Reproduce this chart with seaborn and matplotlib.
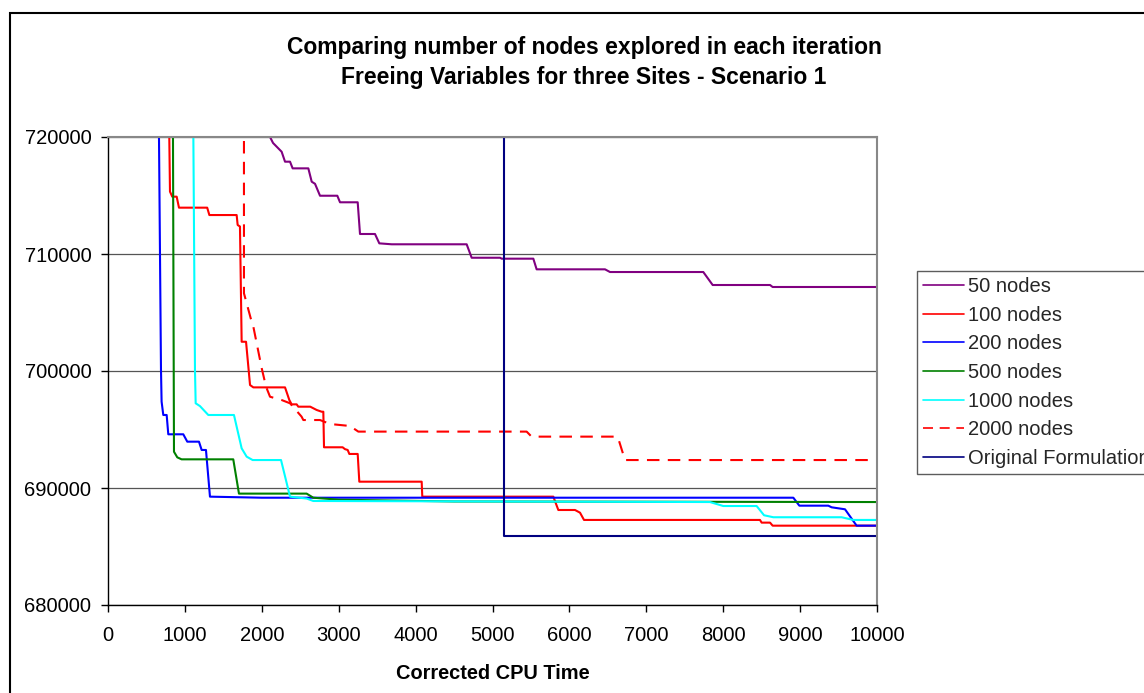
import matplotlib
matplotlib.use("Agg")
import matplotlib.pyplot as plt
from matplotlib.patches import Rectangle
from matplotlib.ticker import FuncFormatter
import seaborn as sns
import pandas as pd

# ---- data: (CPU time, nodes explored) step traces per configuration ----
n50_x = [2060, 2107, 2146, 2258, 2302, 2367, 2401, 2605, 2649, 2692, 2757, 2982, 3017, 3247,
         3277, 3472, 3528, 3689, 4664, 4729, 5098, 5120, 5531, 5574, 6463, 6528, 7741, 7863,
         8609, 8643, 10000]
n50_y = [720700, 720000, 719490, 718740, 717890, 717890, 717320, 717320, 716180, 716000, 714980,
         714980, 714420, 714420, 711710, 711710, 710910, 710830, 710830, 709680, 709680, 709600,
         709600, 708690, 708690, 708460, 708460, 707350, 707350, 707180, 707180]

n100_x = [790, 797, 806, 836, 893, 923, 1290, 1318, 1673, 1686, 1716, 1738, 1795, 1847, 1890,
          2302, 2358, 2388, 2453, 2475, 2630, 2713, 2778, 2800, 2809, 3051, 3082, 3117, 3138,
          3247, 3268, 4079, 4087, 5791, 5856, 6073, 6138, 6190, 8478, 8500, 8609, 8643, 10000]
n100_y = [722000, 720000, 715330, 714900, 714900, 713960, 713960, 713330, 713330, 712480, 712350,
          702500, 702500, 698800, 698600, 698600, 697520, 697150, 697150, 696950, 696950, 696670,
          696520, 696520, 693480, 693480, 693320, 693250, 692910, 692910, 690540, 690540, 689260,
          689260, 688120, 688120, 687890, 687270, 687270, 687040, 687040, 686780, 686780]

n200_x = [655, 663, 689, 697, 719, 763, 784, 979, 1031, 1183, 1218, 1274, 1326, 2000, 8912,
          8990, 9367, 9410, 9584, 9735, 10000]
n200_y = [725000, 720000, 700090, 697380, 696240, 696240, 694590, 694590, 693960, 693960, 693250,
          693250, 689260, 689170, 689170, 688490, 688490, 688350, 688180, 686780, 686780]

n500_x = [835, 845, 858, 901, 957, 1629, 1703, 2583, 2669, 3000, 4500, 10000]
n500_y = [725000, 720000, 693100, 692620, 692450, 692450, 689520, 689520, 689170, 689000, 688850,
          688800]

n1000_x = [1105, 1110, 1131, 1140, 1196, 1304, 1638, 1738, 1803, 1881, 2250, 2367, 2583, 2669,
           7828, 8001, 8435, 8531, 8652, 9540, 9692, 10000]
n1000_y = [725000, 720000, 700090, 697240, 697000, 696240, 696240, 693390, 692680, 692390, 692390,
           689260, 689100, 688890, 688800, 688460, 688460, 687670, 687500, 687500, 687270, 687270]

n2000_x = [1768, 1768, 1780, 1856, 1890, 1999, 2055, 2107, 2258, 2367, 2517, 2540, 2757, 2887,
           3147, 3255, 5444, 5508, 6615, 6637, 6723, 10000]
n2000_y = [725000, 706640, 706350, 704500, 703790, 700230, 698660, 697800, 697520, 697240, 696100,
           695810, 695810, 695470, 695300, 694820, 694820, 694390, 694390, 694200, 692390, 692390]

orig_x = [5150, 5150, 10000]
orig_y = [740000, 685930, 685930]

series_names = ["50 nodes", "100 nodes", "200 nodes", "500 nodes", "1000 nodes", "2000 nodes",
                "Original Formulation"]
x_ticks = list(range(0, 10001, 1000))
y_ticks = [680000, 690000, 700000, 710000, 720000]

# ---- styling ----
sns.set_theme(style="white")
plt.rcParams["font.family"] = ["Liberation Sans", "DejaVu Sans"]

fig = plt.figure(figsize=(11.44, 6.93), dpi=100)
ax = fig.add_axes([108 / 1144, 1 - 605 / 693, (877 - 108) / 1144, (605 - 137) / 693])

styles = [
    ("#800080", "-"),
    ("#FF0000", "-"),
    ("#0000FF", "-"),
    ("#008000", "-"),
    ("#00FFFF", "-"),
    ("#FF0000", "--"),
    ("#000080", "-"),
]
xs = [n50_x, n100_x, n200_x, n500_x, n1000_x, n2000_x, orig_x]
ys = [n50_y, n100_y, n200_y, n500_y, n1000_y, n2000_y, orig_y]

for name, sx, sy, (col, ls) in zip(series_names, xs, ys, styles):
    df = pd.DataFrame({"t": sx, "v": sy})
    line_kw = dict(dashes=(6, 4)) if ls == "--" else {}
    sns.lineplot(data=df, x="t", y="v", ax=ax, color=col, linewidth=1.5, sort=False,
                 estimator=None, label=name, **line_kw)

ax.set_xlim(0, 10000)
ax.set_ylim(680000, 720000)
ax.set_xticks(x_ticks)
ax.set_yticks(y_ticks)
ax.yaxis.set_major_formatter(FuncFormatter(lambda v, p: f"{int(v)}"))
ax.xaxis.set_major_formatter(FuncFormatter(lambda v, p: f"{int(v)}"))
ax.tick_params(axis="both", which="major", direction="out", length=5, width=1,
               color="black", labelsize=14.5, labelcolor="black", left=True, bottom=True)
ax.tick_params(axis="y", pad=7)
ax.tick_params(axis="x", pad=10)

ax.yaxis.grid(True, color="#555555", linewidth=0.9)
ax.xaxis.grid(False)
ax.set_axisbelow(True)
for side in ("left", "bottom"):
    ax.spines[side].set_color("black")
    ax.spines[side].set_linewidth(1.0)
for side in ("top", "right"):
    ax.spines[side].set_color("#888888")
    ax.spines[side].set_linewidth(1.5)

ax.set_ylabel("")
ax.set_xlabel("Corrected CPU Time", fontsize=14.4, fontweight="bold", color="black", labelpad=14)

fig.text(584 / 1144, 1 - 54 / 693, "Comparing number of nodes explored in each iteration",
         ha="center", va="baseline", fontsize=16.5, fontweight="bold", color="black")
fig.text(584 / 1144, 1 - 84 / 693, "Freeing Variables for three Sites - Scenario 1",
         ha="center", va="baseline", fontsize=16.5, fontweight="bold", color="black")

leg = ax.legend(loc="upper left", bbox_to_anchor=(917 / 1144, 1 - 271 / 693),
                bbox_transform=fig.transFigure, frameon=True, fancybox=False,
                fontsize=14.5, handlelength=2.05, handletextpad=0.2, labelspacing=0.48,
                borderpad=0.3, borderaxespad=0)
leg.get_frame().set_edgecolor("#333333")
leg.get_frame().set_linewidth(1.0)
for h in leg.get_lines():
    h.set_linewidth(1.2)

# outer chart frame, open past the right and bottom edges
fig.patches.append(Rectangle((10 / 1144, -0.2), 1.5, 1.2 - 12.5 / 693, transform=fig.transFigure,
                             fill=False, edgecolor="black", linewidth=1.5, clip_on=False))

fig.savefig("out.png", dpi=100)
